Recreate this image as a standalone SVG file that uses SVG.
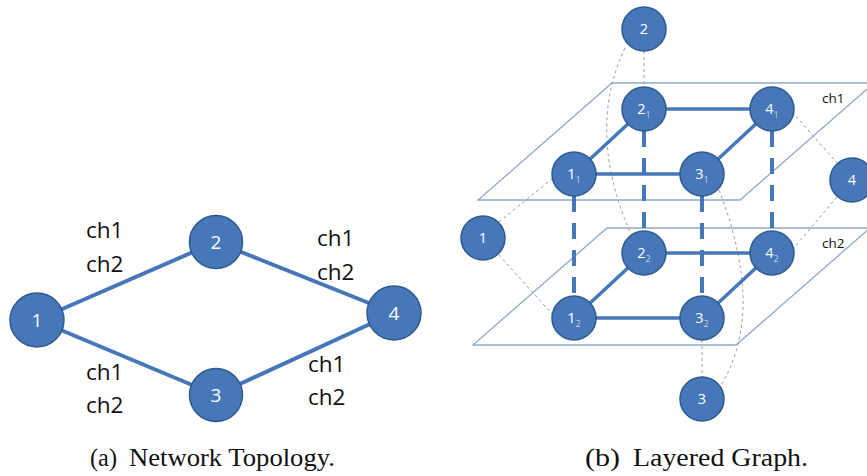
<svg xmlns="http://www.w3.org/2000/svg" width="867" height="476" viewBox="0 0 867 476">
<style>
.bg{fill:#ffffff}
.node circle{fill:#4677b8;stroke:#2f5a8e;stroke-width:1.5}
.nl{font-family:"Open Sans","Liberation Sans",sans-serif;fill:#ffffff;text-anchor:middle}
.big{font-size:19px}
.sm{font-size:14.5px}
.sub{font-size:9px;fill:#c9d3e0}
.edge{stroke:#4677b8;stroke-width:4;fill:none}
.edge2{stroke:#4677b8;stroke-width:3.5;fill:none}
.vdash{stroke:#4677b8;stroke-width:4;stroke-dasharray:16 11;fill:none}
.gdash{stroke:#9a9a9a;stroke-width:1;stroke-dasharray:3 3;fill:none}
.plane{stroke:#8ea9cf;stroke-width:1.3;fill:none}
.lab{font-family:"Open Sans","Liberation Sans",sans-serif;fill:#111111}
.cap{font-family:"Liberation Serif","Times New Roman",serif;font-size:26px;fill:#111111}
</style>
<rect class="bg" width="867" height="476"/>

<!-- (a) network topology -->
<g id="connectors-a">
<line class="edge" x1="37" y1="320" x2="216" y2="242"/>
<line class="edge" x1="37" y1="320" x2="216" y2="395"/>
<line class="edge" x1="216" y1="242" x2="394" y2="313"/>
<line class="edge" x1="216" y1="395" x2="394" y2="313"/>
</g>
<g id="labels-a" class="lab" font-size="22.5">
<text x="86" y="238">ch1</text>
<text x="86" y="272">ch2</text>
<text x="317" y="246">ch1</text>
<text x="317" y="280">ch2</text>
<text x="86" y="380">ch1</text>
<text x="86" y="413">ch2</text>
<text x="308" y="372">ch1</text>
<text x="308" y="405">ch2</text>
</g>
<g id="a-n1" class="node"><circle cx="37" cy="320" r="27"/><text class="nl big" x="37" y="327">1</text></g>
<g id="a-n2" class="node"><circle cx="216" cy="242" r="26.5"/><text class="nl big" x="216" y="249">2</text></g>
<g id="a-n3" class="node"><circle cx="216" cy="395" r="26.5"/><text class="nl big" x="216" y="402">3</text></g>
<g id="a-n4" class="node"><circle cx="394" cy="313" r="27"/><text class="nl big" x="394" y="320">4</text></g>

<!-- (b) layered graph -->
<g id="planes">
<polygon class="plane" points="612,83 874,83 740,200 478,200"/>
<polygon class="plane" points="607,228 870,228 736,345 473,345"/>
</g>
<g id="connectors-b">
<line class="gdash" x1="644" y1="51" x2="644" y2="87"/>
<path class="gdash" d="M625,48 Q586,130 630,232"/>
<line class="gdash" x1="499" y1="222" x2="553" y2="178"/>
<line class="gdash" x1="499" y1="255" x2="553" y2="315"/>
<line class="gdash" x1="792" y1="112" x2="838" y2="164"/>
<line class="gdash" x1="837" y1="197" x2="792" y2="250"/>
<line class="gdash" x1="702" y1="340" x2="702" y2="377"/>
<path class="gdash" d="M719,190 Q766,312 721,385"/>
<line class="edge2" x1="644" y1="109" x2="772" y2="109"/>
<line class="edge2" x1="574" y1="174" x2="702" y2="174"/>
<line class="edge2" x1="574" y1="174" x2="644" y2="109"/>
<line class="edge2" x1="702" y1="174" x2="772" y2="109"/>
<line class="edge2" x1="644" y1="253" x2="772" y2="253"/>
<line class="edge2" x1="574" y1="318" x2="702" y2="318"/>
<line class="edge2" x1="574" y1="318" x2="644" y2="253"/>
<line class="edge2" x1="702" y1="318" x2="772" y2="253"/>
<line class="vdash" x1="574" y1="196" x2="574" y2="296"/>
<line class="vdash" x1="644" y1="131" x2="644" y2="231"/>
<line class="vdash" x1="702" y1="196" x2="702" y2="296"/>
<line class="vdash" x1="772" y1="131" x2="772" y2="231"/>
</g>
<g id="labels-b" class="lab" font-size="13.5">
<text x="822" y="103">ch1</text>
<text x="822" y="248">ch2</text>
</g>
<g id="b-n2" class="node"><circle cx="644" cy="29" r="22"/><text class="nl sm" x="644" y="34">2</text></g>
<g id="b-n1" class="node"><circle cx="483" cy="238" r="22"/><text class="nl sm" x="483" y="243">1</text></g>
<g id="b-n4" class="node"><circle cx="852" cy="180" r="22"/><text class="nl sm" x="852" y="185">4</text></g>
<g id="b-n3" class="node"><circle cx="702" cy="399" r="22"/><text class="nl sm" x="702" y="404">3</text></g>
<g id="b-n21" class="node"><circle cx="644" cy="109" r="22"/><text class="nl sm" x="644" y="114">2<tspan class="sub" dy="4">1</tspan></text></g>
<g id="b-n41" class="node"><circle cx="772" cy="109" r="22"/><text class="nl sm" x="772" y="114">4<tspan class="sub" dy="4">1</tspan></text></g>
<g id="b-n11" class="node"><circle cx="574" cy="174" r="22"/><text class="nl sm" x="574" y="179">1<tspan class="sub" dy="4">1</tspan></text></g>
<g id="b-n31" class="node"><circle cx="702" cy="174" r="22"/><text class="nl sm" x="702" y="179">3<tspan class="sub" dy="4">1</tspan></text></g>
<g id="b-n22" class="node"><circle cx="644" cy="253" r="22"/><text class="nl sm" x="644" y="258">2<tspan class="sub" dy="4">2</tspan></text></g>
<g id="b-n42" class="node"><circle cx="772" cy="253" r="22"/><text class="nl sm" x="772" y="258">4<tspan class="sub" dy="4">2</tspan></text></g>
<g id="b-n12" class="node"><circle cx="574" cy="318" r="22"/><text class="nl sm" x="574" y="323">1<tspan class="sub" dy="4">2</tspan></text></g>
<g id="b-n32" class="node"><circle cx="702" cy="318" r="22"/><text class="nl sm" x="702" y="323">3<tspan class="sub" dy="4">2</tspan></text></g>

<g id="captions">
<text class="cap" x="90" y="466" textLength="27" lengthAdjust="spacingAndGlyphs">(a)</text>
<text class="cap" x="129" y="466" textLength="206" lengthAdjust="spacingAndGlyphs">Network Topology.</text>
<text class="cap" x="585" y="466" textLength="35" lengthAdjust="spacingAndGlyphs">(b)</text>
<text class="cap" x="633" y="466" textLength="175" lengthAdjust="spacingAndGlyphs">Layered Graph.</text>
</g>
</svg>
